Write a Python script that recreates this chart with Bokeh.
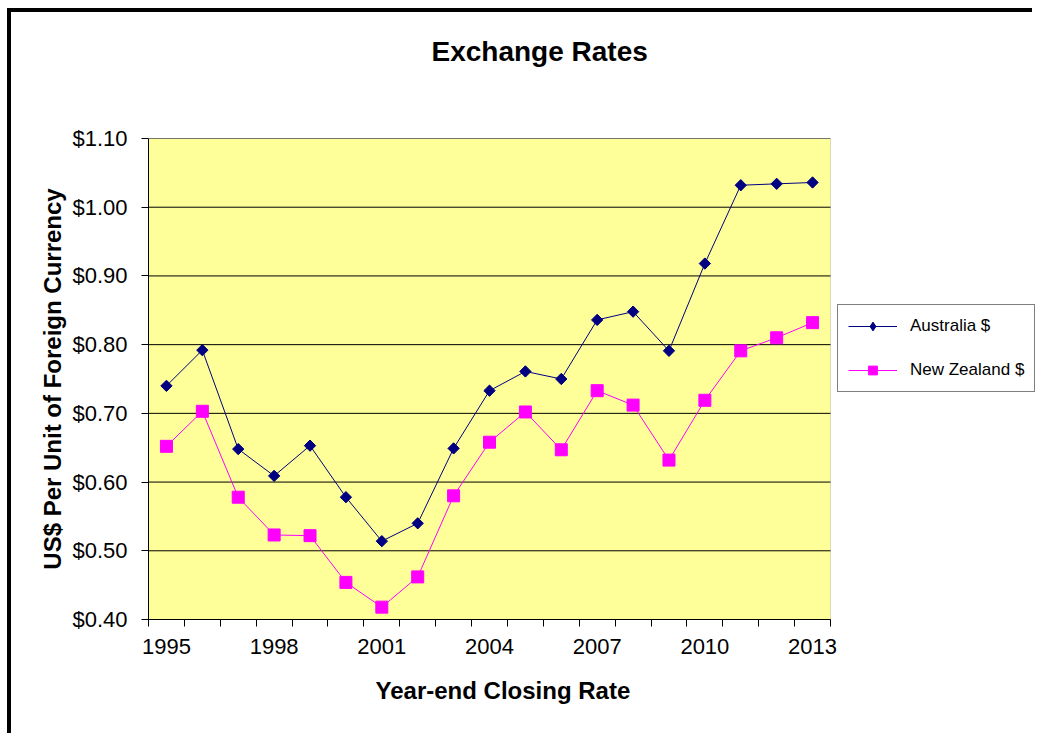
import math
from bokeh.plotting import figure
from bokeh.models import (Range1d, FixedTicker, NumeralTickFormatter, Legend, LegendItem,
                          Title, BoxAnnotation)
from bokeh.embed import file_html
from bokeh.resources import INLINE

# ---------------- data ----------------
title_text = "Exchange Rates"
x_label = "Year-end Closing Rate"
y_label = "US$ Per Unit of Foreign Currency"
series_names = ["Australia $", "New Zealand $"]

years = [1995, 1996, 1997, 1998, 1999, 2000, 2001, 2002, 2003, 2004,
         2005, 2006, 2007, 2008, 2009, 2010, 2011, 2012, 2013]
australia = [0.740, 0.792, 0.648, 0.609, 0.653, 0.578, 0.514, 0.540, 0.649, 0.733,
             0.761, 0.750, 0.836, 0.848, 0.791, 0.918, 1.032, 1.034, 1.036]
new_zealand = [0.652, 0.703, 0.578, 0.523, 0.522, 0.454, 0.418, 0.462, 0.580, 0.658,
               0.702, 0.647, 0.733, 0.712, 0.632, 0.719, 0.791, 0.810, 0.832]

x_tick_years = [1995, 1998, 2001, 2004, 2007, 2010, 2013]
x_tick_labels = ["1995", "1998", "2001", "2004", "2007", "2010", "2013"]
y_ticks = [0.40, 0.50, 0.60, 0.70, 0.80, 0.90, 1.00, 1.10]

FONT = "Liberation Sans"
YELLOW = "#FFFF99"
NAVY = "#000080"
MAGENTA = "#FF00FF"

# ---------------- layout constants (pixels) ----------------
W, H = 1025, 725
LEFT, TOP, BOTTOM = 137, 126, 118
PLOT_W = 682                    # width of the yellow plot area
FRAME_W = W - LEFT              # frame extends under the legend area

x_start = years[0] - 0.5
x_plot_end = years[-1] + 0.5
x_end = x_start + FRAME_W * (x_plot_end - x_start) / PLOT_W
y_start, y_end = y_ticks[0], y_ticks[-1]
boundaries = [y - 0.5 for y in years] + [x_plot_end]

p = figure(width=W, height=H, output_backend="svg", toolbar_location=None,
           x_range=Range1d(x_start, x_end), y_range=Range1d(y_start, y_end),
           min_border_left=LEFT, min_border_right=0, min_border_top=TOP,
           min_border_bottom=BOTTOM)
p.styles = {"border-left": "4px solid black", "border-top": "4px solid black",
            "margin-left": "7px", "margin-top": "8px"}

p.background_fill_color = "white"
p.border_fill_color = "white"
p.outline_line_color = None

xa = p.below[0]
ya = p.left[0]

# yellow plot area with grey border
area = BoxAnnotation(left=x_start, right=x_plot_end, bottom=y_start, top=y_end,
                     fill_color=YELLOW, fill_alpha=1.0, line_color="#808080",
                     line_width=1, level="underlay")
p.add_layout(area)

# horizontal gridlines limited to the plot area
p.xgrid.visible = False
p.ygrid.visible = False
p.segment(x0=[x_start] * len(y_ticks), x1=[x_plot_end] * len(y_ticks),
          y0=y_ticks, y1=y_ticks, line_color="black", line_width=1)

# blank spacer panel between frame and title (pushes the title up)
p.add_layout(Title(text=" ", text_font_size="10px", standoff=54), "above")

# title
p.title = Title(text=title_text, align="left", offset=283, standoff=10,
                text_font=FONT, text_font_size="28px", text_font_style="bold",
                text_color="black")

# x axis
xa.bounds = (x_start, x_plot_end)
xa.ticker = FixedTicker(ticks=x_tick_years, minor_ticks=boundaries)
xa.major_label_overrides = {y: s for y, s in zip(x_tick_years, x_tick_labels)}
xa.major_tick_in = 0
xa.major_tick_out = 0
xa.minor_tick_in = 0
xa.minor_tick_out = 7
xa.minor_tick_line_color = "black"
xa.axis_line_color = "black"
xa.major_label_standoff = 12
xa.major_label_text_font = FONT
xa.major_label_text_font_size = "22px"
xa.major_label_text_color = "black"

# x axis title as a panel below the axis
p.add_layout(Title(text=x_label, align="left", offset=227, standoff=36,
                   text_font=FONT, text_font_size="24px", text_font_style="bold",
                   text_color="black"), "below")

# y axis
ya.ticker = FixedTicker(ticks=y_ticks)
ya.formatter = NumeralTickFormatter(format="$0.00")
ya.major_tick_in = 0
ya.major_tick_out = 7
ya.minor_tick_out = 0
ya.minor_tick_in = 0
ya.major_tick_line_color = "black"
ya.axis_line_color = "black"
ya.major_label_standoff = 14
ya.major_label_text_font = FONT
ya.major_label_text_font_size = "22px"
ya.major_label_text_color = "black"
ya.axis_label = y_label
ya.axis_label_text_font = FONT
ya.axis_label_text_font_size = "24px"
ya.axis_label_text_font_style = "bold"
ya.axis_label_text_color = "black"
ya.axis_label_standoff = 3

# series
au_line = p.line(years, australia, line_color=NAVY, line_width=1)
au_key = p.scatter(years, australia, marker="diamond", size=10, fill_color=NAVY,
                   line_color=NAVY)
au_pts = p.scatter(years, australia, marker="square", angle=math.pi / 4, size=8,
                   fill_color=NAVY, line_color=NAVY)
nz_line = p.line(years, new_zealand, line_color=MAGENTA, line_width=1)
nz_pts = p.scatter(years, new_zealand, marker="square", size=12,
                   fill_color=MAGENTA, line_color=MAGENTA)

legend = Legend(items=[LegendItem(label=series_names[0], renderers=[au_line, au_key]),
                       LegendItem(label=series_names[1], renderers=[nz_line, nz_pts])],
                location=(689, 227), margin=0, padding=10, spacing=22,
                glyph_width=49, glyph_height=22, label_height=22, label_standoff=13,
                label_text_font=FONT, label_text_font_size="17px",
                label_text_color="black",
                border_line_color="black", border_line_width=1,
                background_fill_color="white", background_fill_alpha=1.0)
p.add_layout(legend)

open("out.html", "w").write(file_html(p, INLINE))
